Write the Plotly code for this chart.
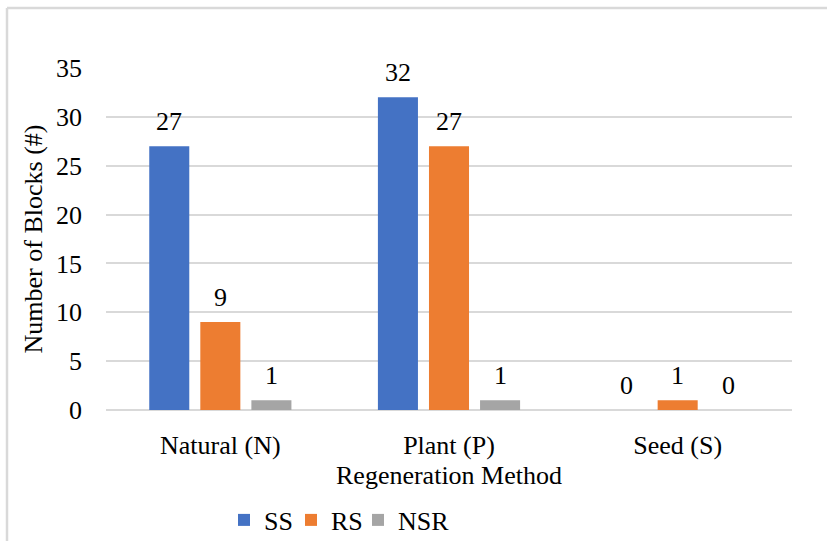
import plotly.graph_objects as go

# Regeneration outcome counts per method
categories = ["Natural (N)", "Plant (P)", "Seed (S)"]
series_names = ["SS", "RS", "NSR"]
ss_values = [27, 32, 0]
rs_values = [9, 27, 1]
nsr_values = [1, 1, 0]
y_ticks = [0, 5, 10, 15, 20, 25, 30, 35]

colors = ["#4472C4", "#ED7D31", "#A5A5A5"]
legend_ids = ["legend", "legend2", "legend3"]
legend_left_px = [224, 291, 358]
FONT = "Liberation Serif"
FS = 26
W, H = 827, 541
M_L, M_R, M_T, M_B = 106, 35, 68, 131
BARGAP, GROUPGAP = 0.33, 0.216

fig = go.Figure()
all_series = [ss_values, rs_values, nsr_values]
for name, vals, col, lg in zip(series_names, all_series, colors, legend_ids):
    fig.add_trace(go.Bar(
        name=name, x=categories, y=vals, legend=lg,
        marker=dict(color=col, line=dict(width=0)),
    ))

# value labels above each bar, offset horizontally to their slot in the group
plot_w = W - M_L - M_R
cat_w = plot_w / len(categories)
slot_w = cat_w * (1 - BARGAP) / len(series_names)
for i, vals in enumerate(all_series):
    dx = (i - (len(series_names) - 1) / 2) * slot_w
    for cat, v in zip(categories, vals):
        fig.add_annotation(
            x=cat, y=v, text=str(v), showarrow=False,
            xshift=dx, yshift=8, yanchor="bottom",
            font=dict(family=FONT, size=FS, color="#000000"),
        )

# outer chart frame (top and left edges)
fx = (7 - M_L) / plot_w
fy = (H - M_B - 8) / (H - M_T - M_B)
fig.add_shape(type="line", xref="paper", yref="paper",
              x0=fx, x1=fx, y0=-1, y1=fy, line=dict(color="#D9D9D9", width=2.5))
fig.add_shape(type="line", xref="paper", yref="paper",
              x0=fx, x1=2, y0=fy, y1=fy, line=dict(color="#D9D9D9", width=2.5))

# one single-entry legend per series, laid out in a row under the axis title
legend_common = dict(
    orientation="h", xanchor="left",
    yref="container", y=1 - 520 / H, yanchor="middle",
    font=dict(family=FONT, size=FS, color="#000000"),
    itemwidth=30, tracegroupgap=0, bgcolor="rgba(0,0,0,0)",
)
legends = {lg: dict(x=(px - M_L) / plot_w, **legend_common)
           for lg, px in zip(legend_ids, legend_left_px)}

fig.update_layout(
    width=W, height=H,
    margin=dict(l=M_L, r=M_R, t=M_T, b=M_B, pad=0),
    paper_bgcolor="white", plot_bgcolor="white",
    barmode="group", bargap=BARGAP, bargroupgap=GROUPGAP,
    font=dict(family=FONT, size=FS, color="#000000"),
    showlegend=True,
    **legends,
    xaxis=dict(
        title=dict(text="Regeneration Method", standoff=6,
                   font=dict(family=FONT, size=FS)),
        showgrid=False, showline=False, ticks="",
        ticklabelstandoff=17,
        tickfont=dict(family=FONT, size=FS),
    ),
    yaxis=dict(
        title=dict(text="Number of Blocks (#)", standoff=5,
                   font=dict(family=FONT, size=FS)),
        range=[0, 35], tickvals=y_ticks,
        showgrid=True, gridcolor="#D9D9D9", gridwidth=2,
        zeroline=True, zerolinecolor="#D9D9D9", zerolinewidth=2,
        showline=False, ticks="", ticklabelstandoff=23,
        tickfont=dict(family=FONT, size=FS),
    ),
)

fig.write_html("out.html")
